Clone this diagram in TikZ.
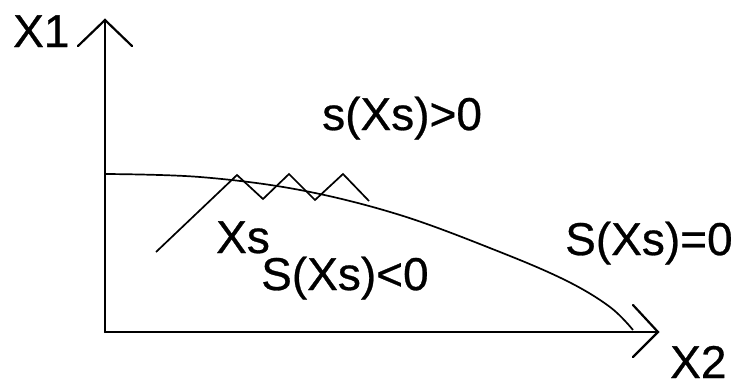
\documentclass[tikz,border=0pt]{standalone}
\usepackage{fontspec}
\setmainfont{Liberation Sans}
\newfontfamily\lblfont[FakeBold=0.6]{Liberation Sans}
\begin{document}
\begin{tikzpicture}[x=1pt,y=-1pt,
  axis/.style={line width=2.2pt,line cap=round,line join=miter},
  thin/.style={line width=1.7pt,line join=miter},
  lbl/.style={inner sep=0pt,anchor=base west,font=\lblfont\fontsize{46}{50}\selectfont}]
\useasboundingbox (0,0) rectangle (738,386);
\coordinate (O) at (105,332);
\coordinate (Ytip) at (105,20);
\coordinate (Yl) at (78,46);
\coordinate (Yr) at (132,46);
\coordinate (Xtip) at (658,332);
\coordinate (Xu) at (633,305);
\coordinate (Xd) at (633,357);
\draw[axis] (O) -- (Ytip);
\draw[axis] (Yl) -- (Ytip) -- (Yr);
\draw[axis] (O) -- (Xtip);
\draw[axis] (Xu) -- (Xtip) -- (Xd);
% switching surface
\draw[thin] plot[smooth,tension=0.6] coordinates {(105,174) (200,177) (300,190) (400,215) (500,252) (567,281) (610,307) (633,330)};
% zigzag trajectory
\coordinate (z0) at (156,252);
\coordinate (z1) at (237,175);
\coordinate (z2) at (263,199);
\coordinate (z3) at (289,174);
\coordinate (z4) at (315,200);
\coordinate (z5) at (343,174);
\coordinate (z6) at (369,201);
\draw[thin] (z0) -- (z1) -- (z2) -- (z3) -- (z4) -- (z5) -- (z6);
% labels
\node[lbl] (lx1) at (13,47) {X1};
\node[lbl] (lx2) at (670,378) {X2};
\node[lbl] (lpos) at (322,130) {s(Xs)>0};
\node[lbl] (lxs) at (216,253) {Xs};
\node[lbl] (lneg) at (261,290) {S(Xs)<0};
\node[lbl] (lzero) at (565,255) {S(Xs)=0};
\end{tikzpicture}
\end{document}
